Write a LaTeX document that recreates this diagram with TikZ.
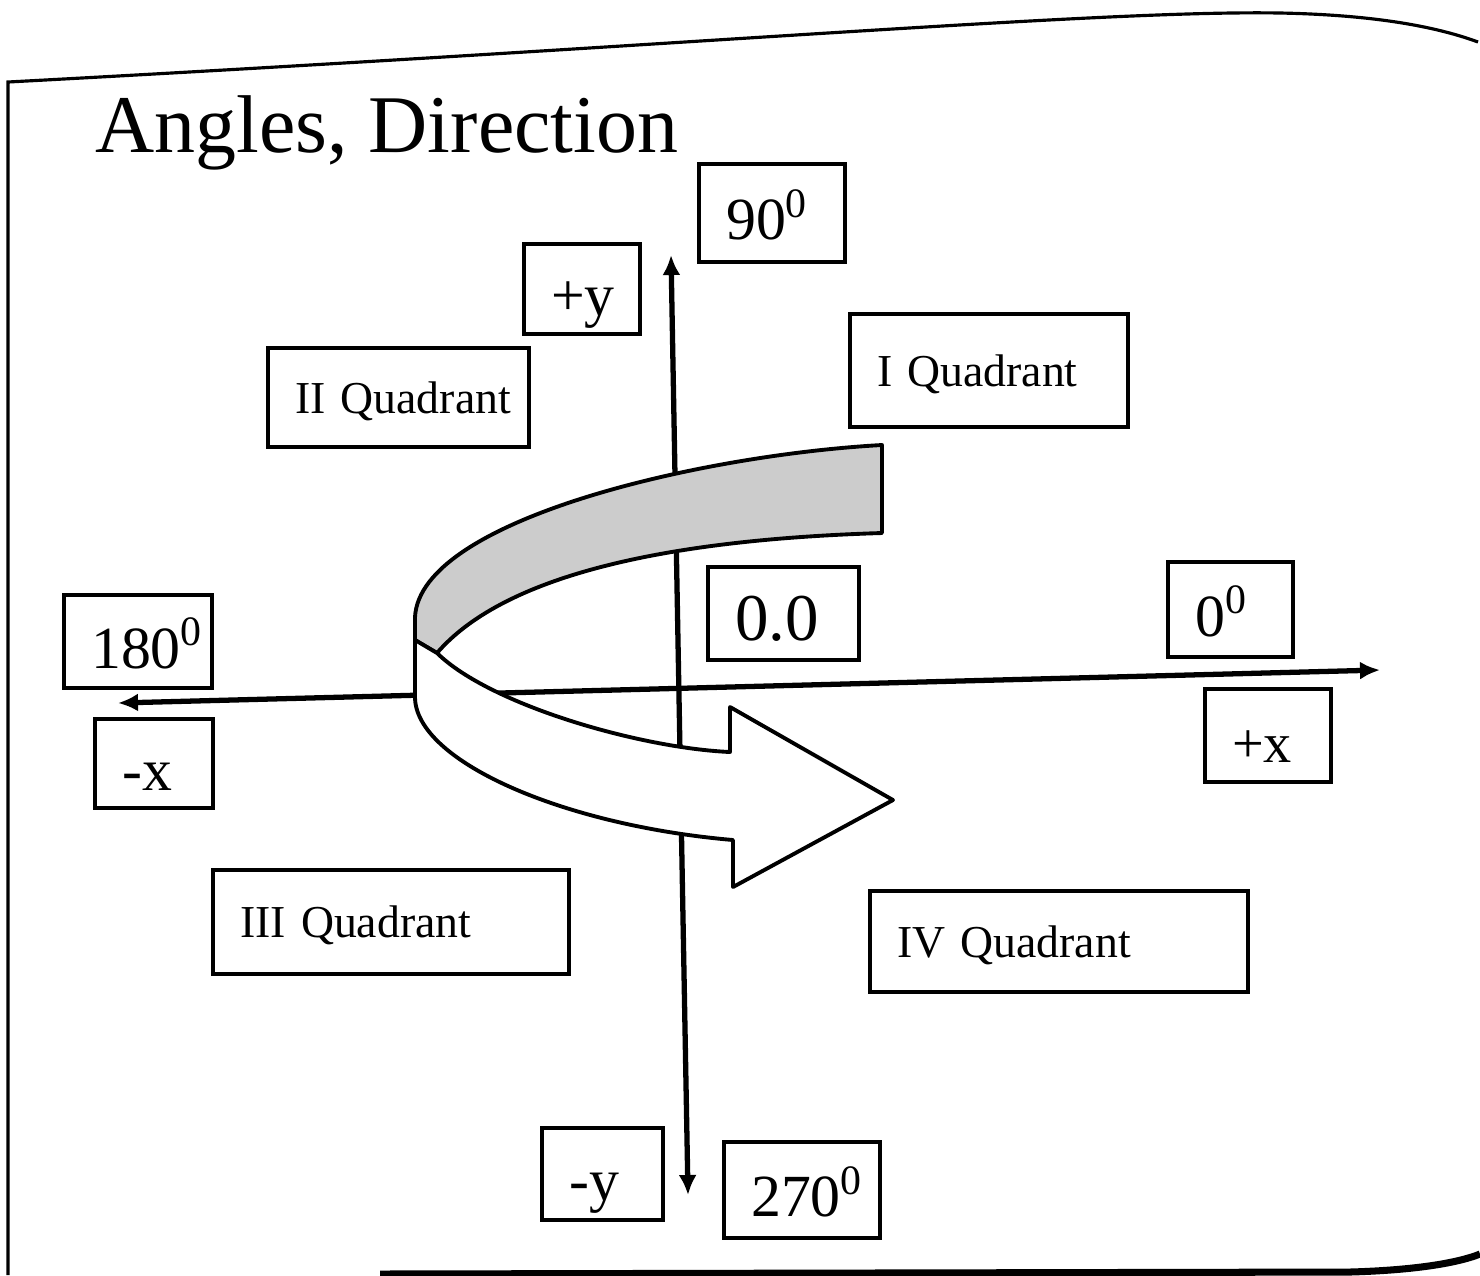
\documentclass[tikz,border=0pt]{standalone}
\usepackage{fontspec}
\setmainfont{Liberation Serif}
\usetikzlibrary{arrows.meta}

\tikzset{
  lblbox/.style={draw, line width=1.2pt, anchor=north west, inner xsep=0.27cm, inner ysep=0pt, align=left, text depth=0pt},
  axisline/.style={line width=1.5pt, {Latex[length=0.2cm,width=0.18cm]}-{Latex[length=0.2cm,width=0.18cm]}},
  ribbon/.style={line width=1.1pt, line join=round},
  paperedge/.style={line width=0.9pt}
}

\begin{document}
\begin{tikzpicture}[x=0.01cm, y=-0.01cm]
  \useasboundingbox (0,0) rectangle (1480,1275);
  % edge of the slide
  \draw[paperedge] (1478,42) .. controls (1440,28) and (1380,15) .. (1280,13) .. controls (1100,10) and (700,45) .. (8,82) -- (8,1275);
  \draw[line width=2pt] (380,1274) -- (1350,1272) .. controls (1420,1270) and (1460,1262) .. (1480,1254);

  % title
  \node[anchor=base west, inner sep=0pt, font=\fontsize{23.3}{28}\selectfont] (title) at (95,152) {Angles, Direction};

  % the two axes
  \coordinate (xneg) at (118,703);
  \coordinate (xpos) at (1380,670);
  \coordinate (ypos) at (671,255);
  \coordinate (yneg) at (688,1195);
  \draw[axisline] (xneg) -- (xpos);
  \draw[axisline] (ypos) -- (yneg);

  % turning arrow, grey top face then white underside
  \draw[ribbon, fill=black!20] (882,445) .. controls (700,455) and (420,520) .. (415,617) -- (415,640) -- (437,653)
    .. controls (500,580) and (650,540) .. (882,533) -- cycle;
  \draw[ribbon, fill=white] (415,640) -- (415,697) .. controls (415,760) and (560,825) .. (733,840) -- (733,887)
    -- (893,800) -- (730,707) -- (730,752) .. controls (640,748) and (490,705) .. (437,653) -- cycle;

  % quadrant boxes
  \foreach \nm/\x/\y/\w/\h/\txt in {quadI/848/312/278/113/I Quadrant, quadII/266/346/261/99/II Quadrant,
      quadIII/211/868/356/104/III Quadrant, quadIV/868/889/378/101/IV Quadrant} {
    \pgfmathsetmacro{\bw}{\w/100}
    \pgfmathsetmacro{\tw}{(\w-54)/100}
    \pgfmathsetmacro{\bh}{\h/100}
    \node[lblbox, font=\fontsize{13}{15}\selectfont, text height=9pt, minimum width=\bw cm, text width=\tw cm, minimum height=\bh cm] (\nm) at (\x,\y) {\mbox{\txt}};
  }

  % angle and axis labels
  \foreach \nm/\x/\y/\w/\h/\fs/\txt in {ninety/697/162/146/98/17/90\textsuperscript{0}, posy/522/242/116/90/17/+y,
      origin/706/565/151/93/19/0.0, zero/1166/560/125/95/17/0\textsuperscript{0}, oneeighty/62/593/148/93/17/180\textsuperscript{0},
      negx/93/717/118/89/17/-x, posx/1203/687/126/93/16/+x, negy/540/1126/121/92/17/-y, twoseventy/722/1140/156/96/17/270\textsuperscript{0}} {
    \pgfmathsetmacro{\bw}{\w/100}
    \pgfmathsetmacro{\tw}{(\w-54)/100}
    \pgfmathsetmacro{\bh}{\h/100}
    \node[lblbox, font=\fontsize{\fs}{19}\selectfont, text height=15pt, minimum width=\bw cm, text width=\tw cm, minimum height=\bh cm] (\nm) at (\x,\y) {\mbox{\txt}};
  }
\end{tikzpicture}
\end{document}
